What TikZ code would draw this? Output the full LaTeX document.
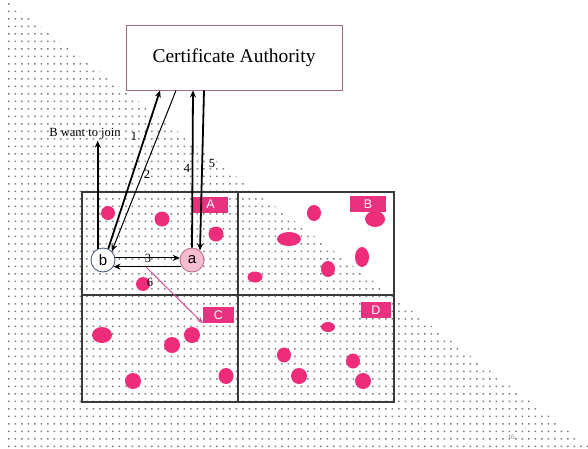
\documentclass[tikz,border=0pt]{standalone}
\usepackage{fontspec}
\setmainfont{Liberation Serif}
\setsansfont{Liberation Sans}
\usetikzlibrary{arrows.meta}
\definecolor{dotgray}{HTML}{7C7C7C}
\definecolor{hotpink}{HTML}{EE2D7A}
\definecolor{labpink}{HTML}{E8327F}
\definecolor{caborder}{HTML}{A86A8C}
\definecolor{apink}{HTML}{F6BCD0}
\definecolor{aborder}{HTML}{C07090}
\definecolor{bborder}{HTML}{50607A}
\definecolor{linkpink}{HTML}{D0509A}
\definecolor{gridgray}{HTML}{3A3A3A}
\tikzset{
  spot/.style={fill=hotpink},
  lab/.style={fill=labpink, text=white, font=\sffamily\fontsize{12.5}{13}\selectfont, minimum height=16pt, inner sep=0pt},
  peer/.style={circle, draw, line width=0.9pt, minimum size=24pt, inner sep=0pt, font=\sffamily\fontsize{15}{15}\selectfont},
  thickarrow/.style={line width=1.8pt, -{Stealth[length=7pt,width=6pt]}},
  thinarrow/.style={line width=1pt, -{Stealth[length=7pt,width=6pt]}},
  pinkarrow/.style={draw=linkpink, line width=1pt, -{Stealth[length=6pt,width=5pt]}},
  numlab/.style={font=\fontsize{12.5}{13}\selectfont, inner sep=1pt},
}
\begin{document}
\begin{tikzpicture}[x=1pt,y=-1pt]
\useasboundingbox (0,0) rectangle (588,448);
\fill[white] (0,0) rectangle (588,448);
% dotted background triangle
\begin{scope}
\clip (6,0) -- (588,446) -- (588,448) -- (6,448) -- cycle;
\foreach \j in {0,...,59} {
  \fill[dotgray] foreach \i in {0,...,89} { (8+6.5*\i, 3+7.5*\j) rectangle ++(1.6,1.6) };
}
\end{scope}
% grid of regions
\draw[gridgray, line width=1.5pt] (82,192) rectangle (394,402);
\draw[gridgray, line width=1.5pt] (238,192) -- (238,402);
\draw[gridgray, line width=1.5pt] (82,295) -- (394,295);
% region labels
\node[lab, minimum width=35pt] (la) at (210.5,204.5) {A};
\node[lab, minimum width=36pt] (lb) at (368,204) {B};
\node[lab, minimum width=31pt] (lc) at (218.5,315) {C};
\node[lab, minimum width=30pt] (ld) at (376,310) {D};
% spots A
\fill[spot] (108,213) ellipse (7pt and 7pt);
\fill[spot] (162,219) ellipse (7.5pt and 7.5pt);
\fill[spot] (216,234) ellipse (7.5pt and 7.5pt);
\fill[spot] (143,284) ellipse (7pt and 7pt);
% spots B
\fill[spot] (314,213) ellipse (7pt and 8pt);
\fill[spot] (289,239) ellipse (12pt and 7pt);
\fill[spot] (375,219) ellipse (10pt and 8pt);
\fill[spot] (362,257) ellipse (7pt and 10pt);
\fill[spot] (328,269) ellipse (7pt and 8pt);
\fill[spot] (255,277) ellipse (7.5pt and 5.5pt);
% spots C
\fill[spot] (102,335) ellipse (10pt and 8pt);
\fill[spot] (192,335) ellipse (8pt and 8pt);
\fill[spot] (172,345) ellipse (8pt and 8pt);
\fill[spot] (133,381) ellipse (8pt and 8pt);
\fill[spot] (226,376) ellipse (7.5pt and 8pt);
% spots D
\fill[spot] (328,327) ellipse (7pt and 5pt);
\fill[spot] (284,355) ellipse (7pt and 7.5pt);
\fill[spot] (299,376) ellipse (8pt and 8pt);
\fill[spot] (353,361) ellipse (7pt and 7.5pt);
\fill[spot] (363,381) ellipse (8pt and 8pt);
% certificate authority
\node[draw=caborder, line width=1pt, fill=white, minimum width=216pt, minimum height=65pt, inner sep=0pt, font=\fontsize{19.5}{22}\selectfont] (ca) at (234,57.5) {Certificate Authority};
% peers
\node[peer, draw=bborder, fill=white] (b) at (103,260) {b};
\node[peer, draw=aborder, fill=apink] (a) at (192,260) {a};
% join text
\node[font=\fontsize{12.5}{14}\selectfont, inner sep=1pt] (join) at (85,134) {B want to join};
\node[numlab] (n1) at (134,136) {1};
% connectors
\draw[thickarrow] (b.115) -- (b.115 |- join.south);
\draw[thickarrow] (b.65) -- ([xshift=-74pt]ca.south);
\draw[thinarrow] ([xshift=-58pt]ca.south) -- (b.45);
\draw[thickarrow] (a.north) -- ([xshift=-41pt]ca.south);
\draw[thickarrow] ([xshift=-30pt]ca.south) -- (a.50);
\draw[thinarrow] (b.10) -- (a.170);
\draw[thinarrow] (a.-148) -- (b.-32);
\coordinate (p0) at (146,267);
\draw[pinkarrow] (p0) -- (lc.south west);
% step numbers
\node[numlab] (n2) at (147,174) {2};
\node[numlab] (n3) at (148,258) {3};
\node[numlab] (n4) at (187,168) {4};
\node[numlab] (n5) at (212,163) {5};
\node[numlab] (n6) at (150,282) {6};
% page number
\node[font=\fontsize{7}{8}\selectfont, text=gray, inner sep=0pt] (pg) at (511,437) {16};
\end{tikzpicture}
\end{document}
